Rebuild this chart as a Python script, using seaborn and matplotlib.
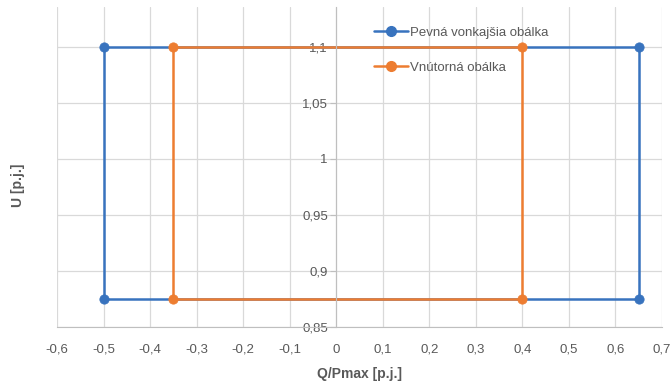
import pandas as pd
import matplotlib
matplotlib.use('Agg')
import matplotlib.pyplot as plt
import matplotlib.ticker as mticker
from matplotlib.lines import Line2D
import seaborn as sns

# data: closed envelopes (Q/Pmax, U)
outer_q = [-0.5, 0.65, 0.65, -0.5, -0.5]
outer_u = [1.1, 1.1, 0.875, 0.875, 1.1]
inner_q = [-0.35, 0.4, 0.4, -0.35, -0.35]
inner_u = [1.1, 1.1, 0.875, 0.875, 1.1]
series_names = ['Pevná vonkajšia obálka', 'Vnútorná obálka']
x_ticks = [-0.6, -0.5, -0.4, -0.3, -0.2, -0.1, 0, 0.1, 0.2, 0.3, 0.4, 0.5, 0.6, 0.7]
y_ticks = [0.85, 0.9, 0.95, 1.0, 1.05, 1.1]

df = pd.concat([
    pd.DataFrame({'Q': outer_q, 'U': outer_u, 'seria': series_names[0]}),
    pd.DataFrame({'Q': inner_q, 'U': inner_u, 'seria': series_names[1]}),
])

sns.set_style('white')
plt.rcParams['font.family'] = ['Liberation Sans', 'DejaVu Sans']
txt = '#595959'

fig = plt.figure(figsize=(6.71, 3.82), dpi=100)
ax = fig.add_axes([0.085, 0.144, 0.9016, 0.8377])

farby = ['#3873BE', '#ED7D31']
for meno, farba in zip(series_names, farby):
    d = df[df['seria'] == meno]
    sns.lineplot(data=d, x='Q', y='U', sort=False, estimator=None, ax=ax,
                 color=farba, lw=1.8, legend=False)
    sns.scatterplot(data=d.iloc[:-1], x='Q', y='U', ax=ax, color=farba, s=45,
                    edgecolor=farba, zorder=5, legend=False)

ax.set_xlim(-0.6, 0.7)
ax.set_ylim(0.85, 1.1357)
ax.set_xticks(x_ticks)
ax.set_yticks(y_ticks)
fmt = lambda v, p: ('%g' % round(v, 2)).replace('.', ',')
ax.xaxis.set_major_formatter(mticker.FuncFormatter(fmt))
ax.yaxis.set_major_formatter(mticker.FuncFormatter(fmt))

ax.grid(True, color='#D9D9D9', lw=0.9)
ax.set_axisbelow(True)
for s in ['top', 'right']:
    ax.spines[s].set_visible(False)
ax.spines['left'].set_position(('data', 0))
ax.spines['left'].set_color('#BFBFBF')
ax.spines['bottom'].set_color('#BFBFBF')
ax.tick_params(axis='y', direction='out', length=4, color='#BFBFBF',
               labelcolor=txt, labelsize=9.5, pad=2, left=True)
ax.tick_params(axis='x', length=0, labelcolor=txt, labelsize=9.5, pad=12)

ax.set_xlabel('Q/Pmax [p.j.]', fontweight='bold', color=txt, fontsize=10, labelpad=8)
ax.set_ylabel('')
fig.text(0.027, 0.516, 'U [p.j.]', rotation=90, fontweight='bold', color=txt,
         fontsize=10, ha='center', va='center')

h = [Line2D([0], [0], color=c, lw=1.8, marker='o', ms=7) for c in farby]
ax.legend(h, series_names, loc='upper left', bbox_to_anchor=(0.539, 0.962),
          bbox_transform=fig.transFigure, frameon=False, fontsize=9.5,
          labelcolor=txt, handlelength=2.6, handletextpad=0.2, labelspacing=1.75)

fig.savefig('out.png', dpi=100)
